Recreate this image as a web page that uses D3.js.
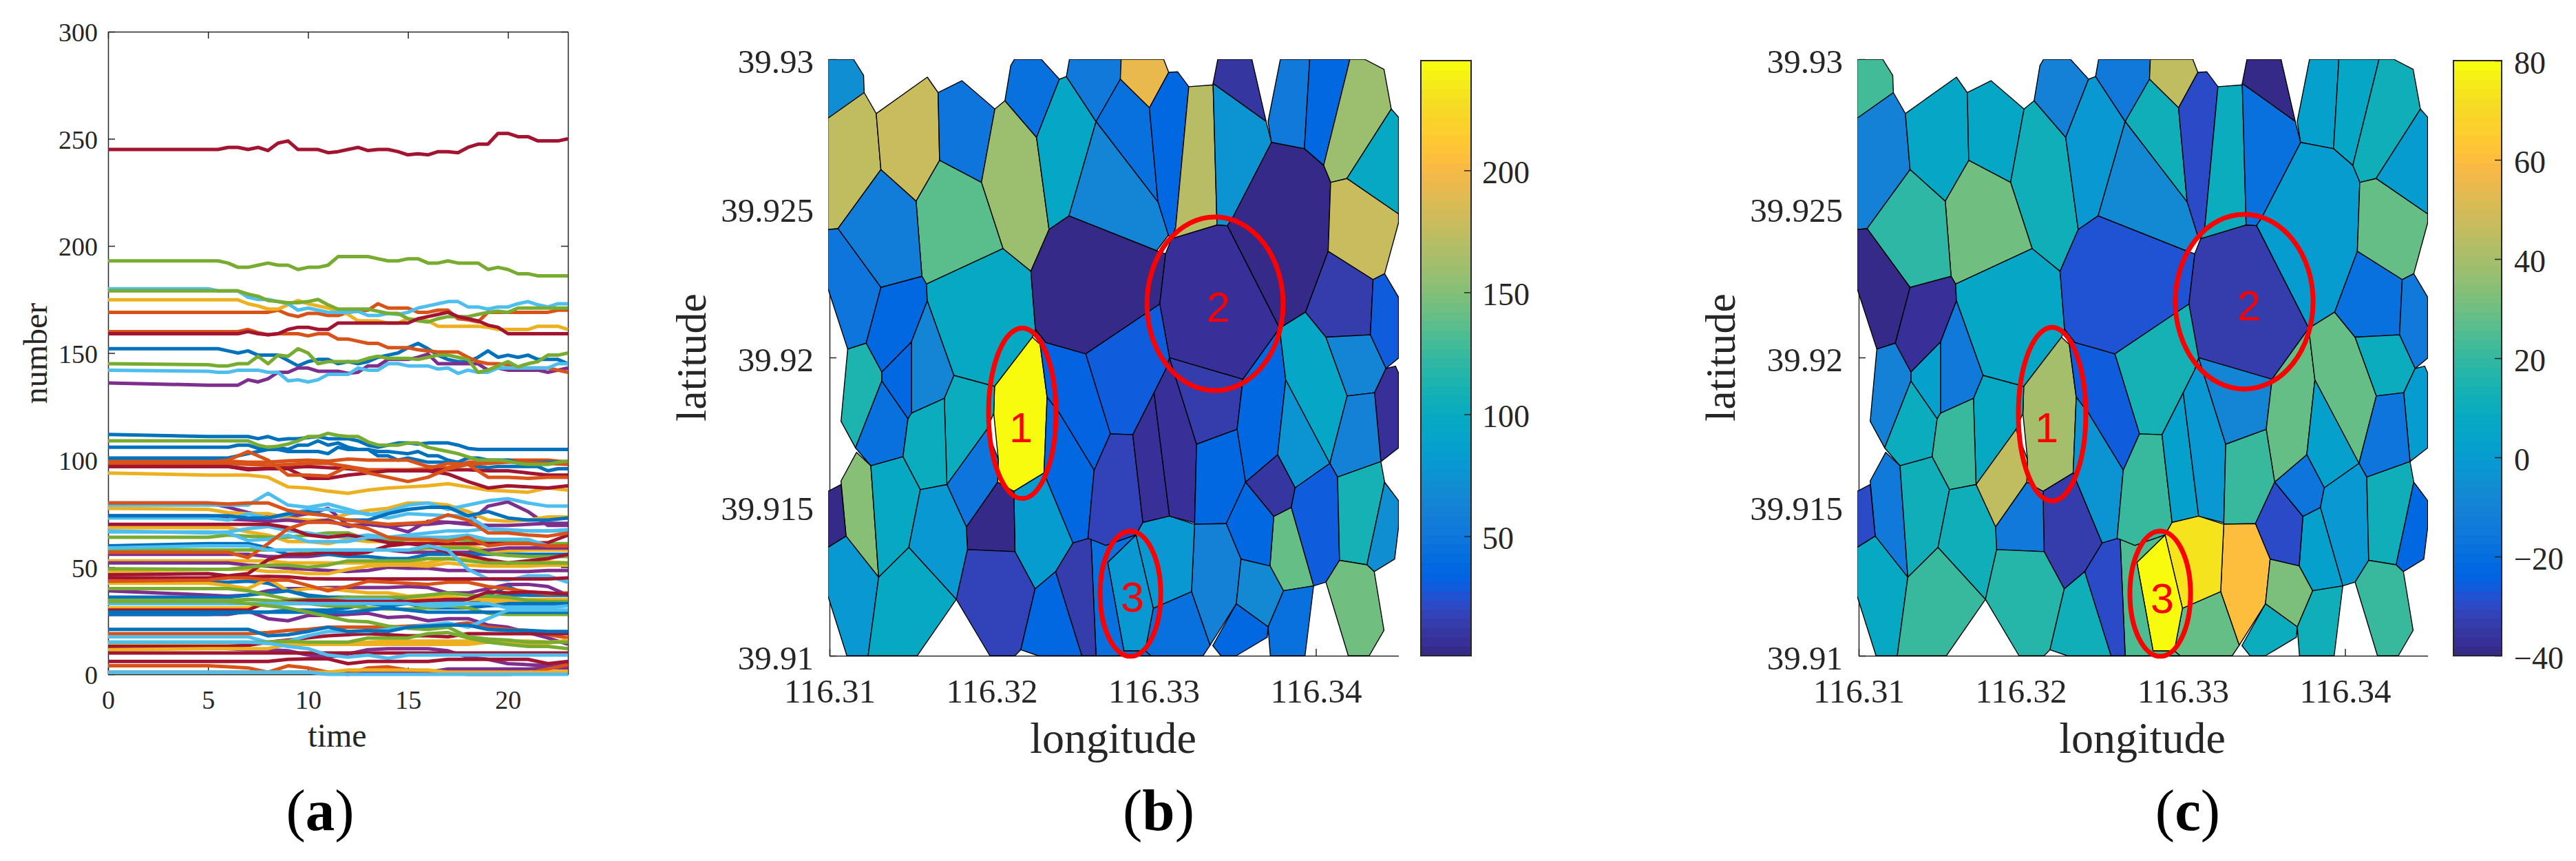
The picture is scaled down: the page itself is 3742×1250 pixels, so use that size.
<!DOCTYPE html>
<html>
<head>
<meta charset="utf-8">
<script src="https://cdn.jsdelivr.net/npm/d3@7"></script>
<style>
  html, body { margin: 0; background: #fff; }
  text { font-family: "Liberation Serif", serif; fill: #262626; }
</style>
</head>
<body>
<script>
// (a) daily number per cell. 38 values = timesFine, 20 values = timesCoarse
const timesFine = [0].concat(d3.range(5, 23.5, 0.5));
const timesCoarse = [0].concat(d3.range(5, 24, 1));

const blueLines = [
  [152,152,152,151,150,151,149,149,149,146.5,144,146,147,147,145,146,145,146,148,149,150,152.5,154.5,152,149,147,146,146,148,151,148,149,148,149,147,147,147,145],
  [112,111,111,111,111,111,110,111,109.5,110,110,110.5,111,110,110,110,109,107,106,107,108,108,107.5,108,108,108,107,105.5,105,105,105,105,105,105,105,105,105,105],
  [106,106,106,106,107,107,105.5,106,106,105,107,107,109,107,108,106,105,105,102,102,100,101,100,99,99,99,98,98,97,96.5,97,97,97,97,97,95,96,96],
  [101,101,101,101,102,103,104,105,105,104,104,104,104,103,106,105,105,105,104,104,103.5,103,104,102,102,100,99,101,101,100,100,100,99,99,99,99,99,99],
  [74,74,74,73,73,75,76,74,72,72,75,77,78,78,74,76,73,72,72,73],
  [60,61,61,61,59,56,56,56,55,55,54,54,56,56,56,56,56,56,56,56],
  [43,43,43,43.5,42.5,39.5,37,36,36,35,35,35,34,34,35,37,41,37,37,37],
  [36,36,36,37,38,39,36.5,35,35,33,33,35,34.5,34,33,36,37,37,37,37],
  [29,29,29,29,29,30,30,30,31,33,32,33,31,31,31,32,33,33,33,33],
  [28,28,28.5,29,29,29,29,29,29,30,31,30,29,29,29,29,29,29,29,29],
  [21,21,21,21,18,18.5,20,22,20,20.5,20,22,22.5,23,23,21,20.5,20.5,20,20]
];
const orangeLines = [
  [169,169,169,169,169,169,169,169,170,168,167,168.5,168.5,167.5,167.5,169,169.5,170,173,171,171,171,169,169,170,170,166,165.5,164.5,169,169,169,169,169,169,169,170,170],
  [160,160,160,160,160,161,159.5,158.5,159,159,159,158,159,159,156.5,156.5,155.5,154.5,154.5,152.5,152.5,152.5,151.5,151,150.5,150.5,150.5,148,146,145,145,144.5,143,143,143,143,142,141],
  [99.5,99.5,99.5,99,99,99.7,100,99.5,100.5,100,100,100,97,96.5,99,99,100,100,100,99],
  [98.5,98.5,98.5,98,97.5,98,98.5,98.5,97,95.5,95.5,95.5,96,98.5,98,98.5,99,99,98.5,98],
  [99,99,100,104,100,93,93,92.5,97,94,92,90,92,96,98,92,92,91.5,92,92],
  [80,80,79.5,80,80,76.5,75,74,72,71,70,70.5,71,74.5,72,66,66,65,64.5,66],
  [57,57,57,54.5,61,68,71,71,70,68,64,63,63,62,64,60,61,61,60,60],
  [43.5,44,45,45,44,44,41.5,39,41,43.5,43,42.5,42,43,43,41,40,38.5,37.5,38],
  [19,19,19,19,19.5,20.5,21,22,22,22,22,22.5,23,23,24,22,21,20.5,18.5,17],
  [4,4,3.5,3,1,4,3,1,0,3,3.5,2,1.5,1,0,0,0,0.5,2.5,4.5]
];
const yellowLines = [
  [174.8,174.8,174.8,174.8,174.8,173,172,170.5,170.5,172.5,174.5,173,172,171,170,168,165,165,165,164,164,166,165.5,165,162.5,162.5,162.5,162.5,162.5,162,161,161,161,161,162.5,162.5,162.5,161],
  [94,93,93,93,92,87.5,87,85.5,84.5,86,87,87.5,88,89,87.5,86,85.5,85,87,86],
  [77.5,77,75.5,75,75,73,72,72,75,76.5,77.5,80,80,79,76,72,71.5,72,73.5,73.5],
  [68.5,68.5,68.5,66.5,65,62,62,61,63,62,62,61,62,60,60,58,57.5,58,58,58],
  [53,53,53,53,53,52,52,52,52,52,52,52,52,54,54,52.5,52,52,52.5,52],
  [48,49,49,49,48,48,47,47,49,50.5,51,51,50.5,52,51,50.5,50.5,50.5,51,51],
  [42.5,42.5,41.5,40,44.5,39,40,40,39,38,38,36.5,37,36,35,34,34,34,35,35],
  [31,31,31,31,33,33,33,33,34,34,33,34.5,36,36.5,35,35,35,35,35,35],
  [14,14,14,14.5,14.5,14.5,14.5,14.5,14.5,15,15.5,15.5,15.5,15.5,15.5,15.5,15.5,14,14.5,16],
  [11.5,12,12,12,12,14,14,14,14,14,14,14,14,14,14,15,15.5,15.5,15,15.5],
  [1,1,1,1,1,1,1,1,2,2,2,2,2,1,1,1,1,1,1,1.5]
];
const purpleLines = [
  [136,135,135,135,135,137.5,136.5,138,141,141,143,143,141.5,141.5,141.5,140.5,141,144,144,147,147,147,148,149.5,145,145,145,145,145,142,143,142,142,142,142,141,142,143],
  [80,80,78,75.5,74,73.5,75,77.5,69.5,70,69,66.5,71.5,71,70.5,78.5,80.5,76,69.5,69.5],
  [74,74,72.5,72,71.5,72,71,72,69,70,69,70,70,71,70,69.5,69.5,70,70.5,70.5],
  [56,56,56,56,55,55,55,56,57,58,58,57,57,57,57,58,59,59,59,59],
  [52,52,52,51,50.5,49.5,49,48.5,48,48.5,50,49.5,49.5,48.5,48.5,48,48,48,48.5,48.5],
  [39,37,36.5,37,39,40,40,40.5,40.5,40.5,40.5,41,40.5,38,38,40,42,42,41,37],
  [28,28,28,29.5,26,25,27.5,27.5,28,28.5,26.5,27,25,26,26,23,22,19.5,17,14],
  [13,13,12,11.5,11.5,11,9,8,9.5,11.5,12,12,12,11,8,7,5,4.5,4,5],
  [1,1,1,1,1,1,1,1,1,1,1,1,1,2.5,2.5,2.5,2.5,2.5,3,3]
];
const greenLines = [
  [193,193,193,192,190,190,191,192,191,191,189,190,190,191,195,195,195,195,194,193,193,194,194,192,192,193,192,192,192,189,190,189,187,187,186,186,186,186],
  [179,179,179,179,179,177.5,176.5,174.5,174,173.5,173.5,174,175,172.5,170.5,170.5,170.5,170.5,169.5,168.5,168.5,166,165,164.5,166,167,167,167,168,169,169.5,169,171,171,171,171,171,171],
  [145,144.5,144,144,145,145,148.5,145,149,148.5,152,150,145,146,146,146,146,147.5,148.5,147.5,147.5,147.5,147,148,149,149,148,147,141,142,144,146,143.5,145,146,149,149,150],
  [109,109,109,109,109,109,107,106,106.5,107.5,109,111,111,112.5,111.5,111,111,108.5,107,107,107,108,108,106,105,104,103,101.5,100,100,100,99.5,98.5,98,98,98,99,99.5],
  [64,64,65,64.5,64,64,65,66,66,63,62.5,63,63.5,63,62.5,62.5,62,62,61,61],
  [58,58,58,58,58,58,57.5,58,58,58,58,58,59,59,59,56.5,55.5,55,55,55],
  [49.3,49,49,50,51,51,50,51,53,53,53,53,54,54,53,52,52,52,52,52],
  [40,40,40,39,37,35,35,35,36,36,36,36,37,38,37,36.5,36,34.5,34,34],
  [34.5,34.5,34.5,35,34.5,33.5,33,32,32,31,30.5,30.5,31,32,31,28.5,28,28,28,28],
  [34,34,34,33,32,31,29,27,25,24.5,22.5,21.5,21,22,17.5,16.5,16,15,15,15],
  [15,15,15,15,15,15.5,15,15,15,17,17,17,19,19.5,17,15,14,13,13,12]
];
const cyanLines = [
  [180,180,179,179,179,176,175,175,174,173,170,171,170,169,169,169,169.5,167.5,167.5,168.5,168,169,171,172,173,174,174,171.5,171.5,170.5,171.5,171.5,173,174,172.5,171.5,173,173],
  [142,141.5,141,141,142,142,142,141,141,137,137.5,136.5,137.5,140,140,140,143,142,142,145,145,144,144,144,142.5,143,140.5,142,141,141,143,143,143,143,143,143,145,145],
  [79,79,79,79,84.5,79,78,79.5,77,74.5,76,79,80,77,79,81,82,80,78.5,78.5],
  [73,73,72,75,73,74.5,77,77,75.5,75,73,75,74.5,74,74,68,67,67,67,67],
  [67,66,66.5,68,69,67,66,64.5,64,65,64,65,66,67,67,68,67.5,67,67,67.5],
  [66.5,66.5,66,62.5,63,65,62,62,62,64,64,64,64,64,65,63,63,63,60,60],
  [59,60,60,60,58,58,58,58,58,58,58,58,60,58,49,44.5,44,46,46,43],
  [33,33,33,33,33,33,33.5,34,35,35,35,33,33,33,33,32,32,32.5,32,32],
  [33,33,33,33,33,33,33,33,33,33,33,33,32,32,33,33,31,31,31,32],
  [17.5,17.5,17.5,17.5,15,15.5,18,20,20,20,21,22,23,24,22,26,30,30,30,30],
  [15,15,15,15,14.5,13,12,9,8,9,7.5,9,9,9,9,9,9,9,9,9],
  [1,1,1,1,1,1,1,0,0,0,0,0,0,0,0,0,0,0,0,0]
];
const redLines = [
  [245,245,245,246,246,245,246,244.5,248,249,245,245,245,243.5,244,245,246,244.5,245,245,244,242.5,243,242.5,244,244,243.5,246,247.5,247.5,252.5,252.5,251,251,249,249,249,250],
  [159,159,159,159,159,160,159,158.5,159,161,162,162,161,161,164,164,164,164,164,164,164,164,166,167,168,169,167,166,165,163,162,159,159,159,159,159,159,159],
  [97,97,97,95.5,96,96.5,97,96.5,96,95,95,95,95.5,95.5,95.5,95,95,94,93,93],
  [97,97,97,96,96,96,91.5,91.5,93,94,95,95,95,93.5,90,87,88,87.5,87,88],
  [70,70,70,70,70,68.5,65,64,65,63.5,61.5,61,61,61,61,61,61,61,61.5,65],
  [46.5,47,46,47,53.5,56,56,57,56,57,60,61,60,57,55.5,53.5,52,53,54,56],
  [45,45,45.5,45.5,45.7,45.5,44.7,44.5,44.5,44.5,44.5,44.5,44.5,44.5,44.5,44.5,44.5,44.5,44.5,45],
  [30,30,30,30,34,34,34.5,34.5,34,34,34,34,34.5,35,35,38.5,38,38.5,38,37.5],
  [13,13,13,13.5,15,16,17,18,18.5,19,18.5,18,18,17.5,19,19,19,19,19,19],
  [10,10,10,10,10,10,10,10,10,10,10,10,10,10,10,10,10,10,10,10],
  [6,6,6,6,6,7,7.2,7.2,5,6,6,6,6,7,7,7,7,7,5,6]
];
const lineGroups = [blueLines, orangeLines, yellowLines, purpleLines, greenLines, cyanLines, redLines];
const lineColors = ["#0072BD", "#D95319", "#EDB120", "#7E2F8E", "#77AC30", "#4DBEEE", "#A2142F"];

// (b)(c) cells: vertices as offsets from the origin, in 1e-5 degrees
const originLon = 116.31, originLat = 39.91;
const cells = [
  [[-10,2000],[148,2000],[210,1946],[214,1888],[-10,1802]],
  [[-10,1802],[214,1888],[288,1818],[317,1630],[52,1432],[-10,1429]],
  [[288,1818],[603,1940],[670,1888],[679,1661],[534,1524],[317,1630]],
  [[670,1888],[817,1928],[1020,1833],[937,1587],[679,1661]],
  [[1020,1833],[1082,1861],[1277,1738],[1354,1429],[1242,1289],[1070,1365],[937,1587]],
  [[1082,1861],[1118,1979],[1141,2000],[1306,2000],[1418,1933],[1277,1738]],
  [[1277,1738],[1418,1933],[1461,1942],[1644,1791],[1477,1475],[1354,1429]],
  [[1461,1942],[1480,2000],[1799,2000],[1794,1933],[1644,1791]],
  [[1799,2000],[2061,2000],[2092,1956],[1973,1837],[1794,1933]],
  [[1794,1933],[1973,1837],[2026,1521],[1644,1791]],
  [[1973,1837],[2092,1956],[2147,1958],[2216,1908],[2135,1436],[2109,1398],[2090,1410],[2026,1521]],
  [[1644,1791],[2026,1521],[2090,1410],[2018,1358],[1477,1475]],
  [[2216,1908],[2366,1914],[2390,1444],[2109,1398],[2135,1436]],
  [[2366,1919],[2693,1792],[2726,1721],[2485,1467],[2454,1442],[2390,1444]],
  [[2395,2000],[2605,2000],[2693,1792],[2366,1919]],
  [[2781,2000],[2962,2000],[2929,1700],[2726,1721],[2705,1791]],
  [[2962,2000],[3210,2000],[3048,1644],[2929,1700]],
  [[3210,2000],[3300,2000],[3420,1966],[3465,1833],[3191,1600],[3091,1587],[3048,1644]],
  [[3465,1833],[3510,1806],[3510,1481],[3191,1600]],
  [[2454,1442],[2485,1467],[2726,1721],[2929,1700],[3048,1644],[3091,1587],[3076,1356],[2936,1152],[2776,1098]],
  [[3091,1587],[3191,1600],[3510,1481],[3510,1452],[3424,1281],[3353,1261],[3076,1356]],
  [[534,1524],[679,1661],[937,1587],[1070,1365],[598,1246],[570,1272]],
  [[52,1432],[317,1630],[534,1524],[570,1272],[317,1235]],
  [[-10,1429],[52,1432],[317,1235],[226,1048],[112,1028],[-10,1232]],
  [[317,1235],[570,1272],[598,1246],[603,1190],[505,1052],[322,951],[226,1048]],
  [[603,1190],[598,1246],[1070,1365],[1242,1289],[1270,1094],[1251,1068],[1018,903],[767,940]],
  [[1242,1289],[1354,1429],[1477,1475],[2018,1358],[2073,1348],[2037,1179],[1580,1012],[1334,1050],[1270,1094]],
  [[2073,1348],[2109,1398],[2390,1444],[2454,1442],[2776,1098],[2550,927],[2097,999],[2037,1179]],
  [[1580,1012],[2037,1179],[2097,999],[2073,959],[1871,741],[1732,744]],
  [[1251,1068],[1299,1044],[1342,867],[1323,613],[1137,551],[1037,582],[1041,659],[1013,813],[1018,903]],
  [[1270,1094],[1334,1050],[1580,1012],[1732,744],[1632,622],[1418,813],[1342,867],[1299,1044]],
  [[1342,867],[1418,813],[1632,622],[1594,393],[1501,378],[1342,586],[1323,613]],
  [[1732,744],[1871,741],[1933,447],[1890,405],[1704,370],[1594,393],[1632,622]],
  [[1871,741],[2002,882],[2097,468],[1933,447]],
  [[2097,999],[2264,709],[2252,446],[2097,468],[2002,882],[2073,959]],
  [[2097,999],[2550,927],[2514,759],[2264,709]],
  [[2550,927],[2776,1098],[2814,925],[2764,674],[2566,582],[2514,759]],
  [[2264,709],[2514,759],[2566,582],[2447,443],[2252,441]],
  [[2776,1098],[2936,1152],[3062,1068],[3193,871],[3086,645],[2814,925]],
  [[3076,1356],[3353,1261],[3336,1076],[3062,1068],[2936,1152]],
  [[3353,1261],[3424,1281],[3510,1202],[3510,998],[3432,963],[3336,1076]],
  [[3062,1068],[3336,1076],[3432,963],[3362,882],[3193,871]],
  [[3432,963],[3491,971],[3510,948],[3510,697],[3401,651],[3362,882]],
  [[3193,871],[3362,882],[3401,651],[3134,599],[3086,645]],
  [[2814,925],[3086,645],[2872,563],[2764,674]],
  [[2566,582],[2764,674],[2872,563],[2848,497],[2740,467]],
  [[2872,563],[3086,645],[3134,599],[3146,320],[3062,247],[2986,234],[2848,497]],
  [[3134,599],[3401,651],[3424,582],[3315,305],[3146,320]],
  [[3424,582],[3510,520],[3510,432],[3486,324],[3360,282],[3315,305]],
  [[3146,320],[3315,305],[3360,282],[3420,85],[3329,0],[3200,0],[3062,247]],
  [[2740,467],[2848,497],[2986,234],[2800,218],[2717,301]],
  [[2800,218],[2986,234],[2933,0],[2719,0],[2705,97]],
  [[2566,582],[2740,467],[2717,301],[2538,324],[2447,443]],
  [[2252,441],[2447,443],[2538,324],[2509,174],[2347,35],[2233,215]],
  [[2538,324],[2717,301],[2800,218],[2705,97],[2509,174]],
  [[2509,174],[2705,97],[2700,62],[2509,0],[2414,0],[2364,34]],
  [[1997,159],[2233,215],[2347,35],[2304,0],[1983,0],[1947,16]],
  [[1890,405],[1933,447],[2097,468],[2252,441],[2233,215],[1997,159]],
  [[1890,405],[1716,313],[1816,16],[1947,16],[1997,159]],
  [[1613,390],[1704,370],[1890,405],[1716,313],[1816,16],[1947,16],[1983,0],[1644,0]],
  [[1501,378],[1594,393],[1613,390],[1644,0],[1556,0],[1394,282]],
  [[1137,551],[1323,613],[1342,586],[1501,378],[1394,282],[1268,224],[1144,349]],
  [[1037,582],[1137,551],[1144,349],[851,356],[844,432]],
  [[724,574],[970,759],[1041,659],[1037,582],[844,432]],
  [[708,863],[767,940],[1018,903],[1013,813],[970,759],[724,574]],
  [[505,1052],[603,1190],[767,940],[708,863],[505,813]],
  [[322,951],[505,1052],[505,813],[484,794],[322,921]],
  [[112,1028],[226,1048],[322,951],[322,921],[160,697],[71,786]],
  [[322,921],[484,794],[453,667],[255,637],[160,697]],
  [[484,794],[505,813],[708,863],[724,574],[560,557],[453,667]],
  [[167,682],[255,637],[303,263],[102,401],[71,586]],
  [[255,637],[453,667],[560,557],[489,363],[303,263]],
  [[560,557],[724,574],[844,432],[851,356],[782,189],[489,363]],
  [[-10,551],[71,574],[102,401],[-10,363]],
  [[-10,363],[102,401],[303,263],[238,0],[107,0],[-10,201]],
  [[303,263],[489,363],[782,189],[541,0],[238,0]],
  [[851,356],[1144,349],[1268,224],[1180,20],[1144,0],[989,0],[782,189]],
  [[1268,224],[1394,282],[1556,0],[1287,0],[1180,20]]
];
const countB = [72,174,178,49,159,45,94,52,193,45,37,64,171,75,11,52,37,159,98,3,178,136,56,49,37,98,3,7,30,243,33,37,18,7,7,14,37,37,94,14,30,64,7,60,75,11,30,110,72,144,140,45,37,60,68,37,45,79,79,45,14,83,3,49,102,64,37,113,45,102,152,98,79,3,79,98,18,37];
const diffC = [23,-11,6,6,12,-11,-2,-15,45,12,-30,-7,10,-18,-39,2,6,12,0,0,28,30,19,-39,-37,6,-28,-33,13,40,-26,-3,21,2,-2,-9,28,21,28,-18,-15,10,0,-17,2,-17,-2,12,-22,21,2,12,-30,60,32,10,28,73,79,25,-30,-33,-15,45,8,-15,2,-11,10,21,-15,12,12,-30,8,21,17,12];

const lonTicks = [116.31, 116.32, 116.33, 116.34];
const latTicks = [39.91, 39.915, 39.92, 39.925, 39.93];
const barTicksB = [50, 100, 150, 200];
const barTicksC = [-40, -20, 0, 20, 40, 60, 80];

const ringsB = [
  {label: "1", lon: 116.32189, lat: 39.91813, rLon: .00208, rLat: .00286, textLon: 116.3218, textLat: 39.91767},
  {label: "2", lon: 116.33378, lat: 39.9218, rLon: .0042, rLat: .00291, textLon: 116.33399, textLat: 39.92171},
  {label: "3", lon: 116.32856, lat: 39.91208, rLon: .00187, rLat: .0021, textLon: 116.32868, textLat: 39.91199}
];
const ringsC = [
  {label: "1", lon: 116.32193, lat: 39.9181, rLon: .00208, rLat: .00291, textLon: 116.32159, textLat: 39.91767},
  {label: "2", lon: 116.33378, lat: 39.92187, rLon: .00425, rLat: .00293, textLon: 116.33408, textLat: 39.92176},
  {label: "3", lon: 116.3286, lat: 39.91208, rLon: .00187, rLat: .0021, textLon: 116.32873, textLat: 39.91194}
];

const parula = ["#352a87","#363098","#3636a0","#353dad","#3243ba","#2b4ac7","#2053d4","#0f5cdd","#0363e1","#0268e1","#046de0","#0871de","#0d75dc","#1079da","#127dd8","#1481d6","#1485d4","#1389d3","#108ed2","#0c93d2","#0998d1","#079ccf","#06a0cd","#06a4ca","#06a7c6","#07a9c2","#0aacbe","#0faeb9","#15b1b4","#1db3af","#25b5a9","#2eb7a4","#38b99e","#42bb98","#4dbc92","#59bd8c","#65be86","#71bf80","#7cbf7b","#87bf77","#92bf73","#9cbf6f","#a5be6b","#aebd67","#b7bd64","#c0bc60","#c8bc5d","#d1bb59","#d9bb55","#e1ba52","#e9b94e","#f1b94a","#f8ba44","#fdbe3d","#ffc337","#fec832","#fcce2e","#fad32a","#f7d826","#f5de21","#f5e41d","#f5eb18","#f6f313","#f9fb0e"];

const svg = d3.select("body").append("svg")
    .attr("width", 3742)
    .attr("height", 1250)
    .attr("viewBox", [0, 0, 3742, 1250]);

function styleAxis(g, size) {
  g.selectAll("text").style("font-size", size + "px");
  g.selectAll("path, line").attr("stroke", "#262626").attr("stroke-width", 1.5);
}

// panel a
const xTime = d3.scaleLinear([0, 23], [157, 825]);
const yNumber = d3.scaleLinear([0, 300], [979, 46]);

svg.append("g")
    .attr("transform", "translate(0,979)")
    .call(d3.axisBottom(xTime).tickValues([0, 5, 10, 15, 20]).tickSize(-10).tickSizeOuter(0).tickPadding(23))
    .call(styleAxis, 38);
svg.append("g")
    .attr("transform", "translate(157,0)")
    .call(d3.axisLeft(yNumber).tickValues(d3.range(0, 301, 50)).tickSize(-10).tickSizeOuter(0).tickPadding(15))
    .call(styleAxis, 38)
    .selectAll("text").attr("dy", ".36em");
svg.append("g")
    .attr("transform", "translate(0,46)")
    .call(d3.axisTop(xTime).tickValues([0, 5, 10, 15, 20]).tickSize(-10).tickSizeOuter(0).tickFormat(""))
    .call(styleAxis, 38);
svg.append("g")
    .attr("transform", "translate(825,0)")
    .call(d3.axisRight(yNumber).tickValues(d3.range(0, 301, 50)).tickSize(-10).tickSizeOuter(0).tickFormat(""))
    .call(styleAxis, 38);

// draw in colour-cycle order, as plot() would
const allLines = [];
d3.range(d3.max(lineGroups, d => d.length)).forEach(i => {
  lineGroups.forEach((group, c) => {
    if (group[i]) allLines.push({values: group[i], color: lineColors[c]});
  });
});
const timeLine = d3.line()
    .x(d => xTime(d[0]))
    .y(d => yNumber(d[1]));

svg.append("g")
    .attr("fill", "none")
    .attr("stroke-width", 5)
    .attr("stroke-linejoin", "round")
  .selectAll("path")
  .data(allLines)
  .join("path")
    .attr("stroke", d => d.color)
    .attr("d", d => {
      const times = d.values.length === timesFine.length ? timesFine : timesCoarse;
      return timeLine(d.values.map((v, i) => [times[i], v]));
    });

svg.append("text").attr("x", 68).attr("y", 513).attr("transform", "rotate(-90,68,513)")
    .attr("text-anchor", "middle").style("font-size", "48px").text("number");
svg.append("text").attr("x", 490).attr("y", 1084)
    .attr("text-anchor", "middle").style("font-size", "48px").text("time");

// panels b and c
function mapPanel(id, left, values, domain, barTicks, rings, barLeft, barRight, barPad) {
  const x = d3.scaleLinear([116.31, 116.3451], [left, left + 826.6]);
  const y = d3.scaleLinear([39.91, 39.93], [952, 86]);
  const color = d3.scaleQuantize(domain, parula);
  const vy = d3.scaleLinear(domain, [952, 88]);
  const g = svg.append("g");

  g.append("g")
      .attr("transform", "translate(0,952)")
      .call(d3.axisBottom(x).tickValues(lonTicks).tickSize(-10).tickSizeOuter(0).tickPadding(33).tickFormat(d3.format(".2f")))
      .call(styleAxis, 49);
  g.append("g")
      .attr("transform", `translate(${left},0)`)
      .call(d3.axisLeft(y).tickValues(latTicks).tickSize(-10).tickSizeOuter(0).tickPadding(23).tickFormat(d => String(d)))
      .call(styleAxis, 49)
      .selectAll("text").attr("dy", ".39em");

  g.append("clipPath").attr("id", id)
    .append("rect")
      .attr("x", left - 2).attr("y", 86)
      .attr("width", 829).attr("height", 868);

  const cellPath = d3.line()
      .x(d => x(originLon + d[0] / 1e5))
      .y(d => y(originLat + d[1] / 1e5))
      .curve(d3.curveLinearClosed);

  g.append("g")
      .attr("clip-path", `url(#${id})`)
    .selectAll("path")
    .data(cells)
    .join("path")
      .attr("d", cellPath)
      .attr("fill", (d, i) => color(values[i]))
      .attr("stroke", "#000")
      .attr("stroke-width", 1.4)
      .attr("stroke-linejoin", "round");

  g.append("g").selectAll("ellipse")
    .data(rings)
    .join("ellipse")
      .attr("cx", d => x(d.lon))
      .attr("cy", d => y(d.lat))
      .attr("rx", d => x(d.lon + d.rLon) - x(d.lon))
      .attr("ry", d => y(d.lat) - y(d.lat + d.rLat))
      .attr("fill", "none")
      .attr("stroke", "#ff0000")
      .attr("stroke-width", 7);

  g.append("g").selectAll("text")
    .data(rings)
    .join("text")
      .attr("x", d => x(d.textLon))
      .attr("y", d => y(d.textLat))
      .attr("dy", ".36em")
      .attr("text-anchor", "middle")
      .style("font-family", "'Liberation Sans', sans-serif")
      .style("font-size", "61px")
      .style("fill", "#ff0000")
      .text(d => d.label);

  g.append("text").attr("x", left + 412).attr("y", 1093)
      .attr("text-anchor", "middle").style("font-size", "64px").text("longitude");
  g.append("text").attr("x", left - 180).attr("y", 519)
      .attr("transform", `rotate(-90,${left - 180},519)`)
      .attr("text-anchor", "middle").style("font-size", "62px").text("latitude");

  // colorbar
  const step = (domain[1] - domain[0]) / parula.length;
  g.append("g").selectAll("rect")
    .data(parula)
    .join("rect")
      .attr("x", barLeft)
      .attr("width", barRight - barLeft)
      .attr("y", (d, i) => vy(domain[0] + (i + 1) * step))
      .attr("height", (d, i) => vy(domain[0] + i * step) - vy(domain[0] + (i + 1) * step) + 0.5)
      .attr("fill", d => d);
  g.append("rect")
      .attr("x", barLeft).attr("y", 88)
      .attr("width", barRight - barLeft).attr("height", 864)
      .attr("fill", "none").attr("stroke", "#262626").attr("stroke-width", 2);
  g.append("g")
      .attr("transform", `translate(${barRight},0)`)
      .call(d3.axisRight(vy).tickValues(barTicks).tickSize(-10).tickSizeOuter(0).tickPadding(barPad))
      .call(g => g.select(".domain").remove())
      .call(styleAxis, 46)
      .selectAll("text").attr("dy", ".4em");
}

mapPanel("clipB", 1205, countB, [1, 245], barTicksB, ringsB, 2064, 2137, 16);
mapPanel("clipC", 2700, diffC, [-40, 80], barTicksC, ringsC, 3564, 3634, 18);

// sub-figure letters
[["a", 465], ["b", 1683], ["c", 3178]].forEach(([letter, cx]) => {
  const t = svg.append("text").attr("x", cx).attr("y", 1205)
      .attr("text-anchor", "middle")
      .style("font-size", "85px")
      .style("fill", "#000");
  t.append("tspan").text("(");
  t.append("tspan").style("font-weight", "bold").text(letter);
  t.append("tspan").text(")");
});
</script>
</body>
</html>
